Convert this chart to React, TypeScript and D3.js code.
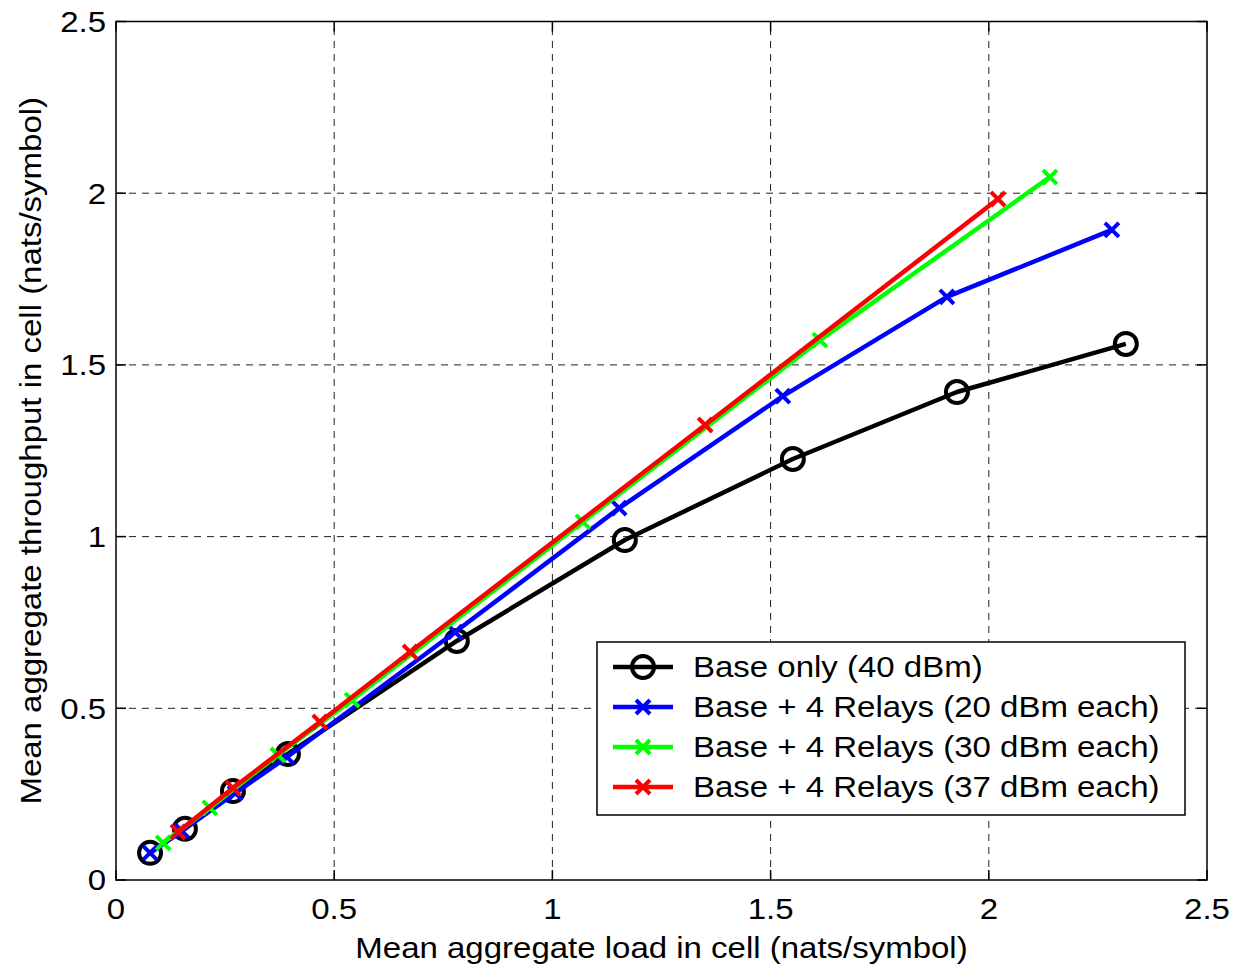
import React from 'react'
import * as d3 from 'd3'

const width = 1233
const height = 970
const margin = { left: 116, top: 21.5, right: 26, bottom: 90 }

const xTicks = [0, 0.5, 1, 1.5, 2, 2.5]
const yTicks = [0, 0.5, 1, 1.5, 2, 2.5]
const xTickLabels = ['0', '0.5', '1', '1.5', '2', '2.5']
const yTickLabels = ['0', '0.5', '1', '1.5', '2', '2.5']

const baseX = [0.078, 0.158, 0.268, 0.394, 0.781, 1.166, 1.551, 1.927, 2.314]
const baseY = [0.079, 0.149, 0.259, 0.367, 0.696, 0.99, 1.226, 1.421, 1.561]
const relay20X = [0.078, 0.151, 0.273, 0.392, 0.777, 1.153, 1.528, 1.904, 2.282]
const relay20Y = [0.079, 0.143, 0.253, 0.358, 0.722, 1.083, 1.409, 1.698, 1.893]
const relay30X = [0.108, 0.215, 0.371, 0.541, 1.07, 1.613, 2.14]
const relay30Y = [0.108, 0.21, 0.364, 0.524, 1.043, 1.572, 2.047]
const relay37X = [0.142, 0.268, 0.467, 0.674, 1.35, 2.021]
const relay37Y = [0.14, 0.268, 0.46, 0.664, 1.325, 1.983]

const seriesNames = [
  'Base only (40 dBm)',
  'Base + 4 Relays (20 dBm each)',
  'Base + 4 Relays (30 dBm each)',
  'Base + 4 Relays (37 dBm each)',
]
const seriesColors = ['#000000', '#0000ff', '#00ff00', '#ff0000']
const seriesMarkers = ['circle', 'x', 'x', 'x']

const font = '"Liberation Sans", Arial, sans-serif'
const fontSize = 30
const stretch = 1.1

function Label({ x, y, anchor, rotate = 0, children }) {
  return (
    <g transform={`translate(${x},${y}) rotate(${rotate}) scale(${stretch},1)`}>
      <text
        textAnchor={anchor}
        dominantBaseline="central"
        fontFamily={font}
        fontSize={fontSize}
        fill="#000"
      >
        {children}
      </text>
    </g>
  )
}

function Marker({ type, x, y, color }) {
  if (type === 'circle') {
    return <circle cx={x} cy={y} r={11} fill="none" stroke={color} strokeWidth={4} />
  }
  const s = 7
  return (
    <path
      d={`M${x - s},${y - s}L${x + s},${y + s}M${x - s},${y + s}L${x + s},${y - s}`}
      stroke={color}
      strokeWidth={4}
      fill="none"
    />
  )
}

export default function App() {
  const xScale = d3
    .scaleLinear()
    .domain([0, 2.5])
    .range([margin.left, width - margin.right])
  const yScale = d3
    .scaleLinear()
    .domain([0, 2.5])
    .range([height - margin.bottom, margin.top])

  const series = [
    baseX.map((x, i) => [x, baseY[i]]),
    relay20X.map((x, i) => [x, relay20Y[i]]),
    relay30X.map((x, i) => [x, relay30Y[i]]),
    relay37X.map((x, i) => [x, relay37Y[i]]),
  ]

  const line = d3
    .line()
    .x((d) => xScale(d[0]))
    .y((d) => yScale(d[1]))

  const x0 = xScale(0)
  const x1 = xScale(2.5)
  const y0 = yScale(0)
  const y1 = yScale(2.5)

  const legend = { x: 597, y: 642, w: 588, h: 173, row: 40 }

  return (
    <svg
      width={width}
      height={height}
      style={{ position: 'absolute', left: 0, top: 0, background: '#fff' }}
    >
      {/* grid */}
      {xTicks.slice(1, -1).map((t) => (
        <line
          key={'gx' + t}
          x1={xScale(t)}
          x2={xScale(t)}
          y1={y0}
          y2={y1}
          stroke="#222"
          strokeWidth={1}
          strokeDasharray="7,6"
        />
      ))}
      {yTicks.slice(1, -1).map((t) => (
        <line
          key={'gy' + t}
          x1={x0}
          x2={x1}
          y1={yScale(t)}
          y2={yScale(t)}
          stroke="#222"
          strokeWidth={1}
          strokeDasharray="7,6"
        />
      ))}

      {/* ticks */}
      {xTicks.map((t) => (
        <g key={'tx' + t}>
          <line x1={xScale(t)} x2={xScale(t)} y1={y0} y2={y0 - 10} stroke="#000" strokeWidth={1.5} />
          <line x1={xScale(t)} x2={xScale(t)} y1={y1} y2={y1 + 10} stroke="#000" strokeWidth={1.5} />
        </g>
      ))}
      {yTicks.map((t) => (
        <g key={'ty' + t}>
          <line x1={x0} x2={x0 + 10} y1={yScale(t)} y2={yScale(t)} stroke="#000" strokeWidth={1.5} />
          <line x1={x1} x2={x1 - 10} y1={yScale(t)} y2={yScale(t)} stroke="#000" strokeWidth={1.5} />
        </g>
      ))}

      {/* series */}
      {series.map((pts, si) => (
        <g key={'s' + si}>
          <path d={line(pts)} fill="none" stroke={seriesColors[si]} strokeWidth={4.5} strokeLinejoin="round" />
          {pts.map((p, i) => (
            <Marker
              key={i}
              type={seriesMarkers[si]}
              x={xScale(p[0])}
              y={yScale(p[1])}
              color={seriesColors[si]}
            />
          ))}
        </g>
      ))}

      {/* axes box */}
      <rect x={x0} y={y1} width={x1 - x0} height={y0 - y1} fill="none" stroke="#000" strokeWidth={1.5} />

      {/* tick labels */}
      {xTicks.map((t, i) => (
        <Label key={'lx' + t} x={xScale(t)} y={y0 + 29} anchor="middle">
          {xTickLabels[i]}
        </Label>
      ))}
      {yTicks.map((t, i) => (
        <Label key={'ly' + t} x={x0 - 10} y={yScale(t)} anchor="end">
          {yTickLabels[i]}
        </Label>
      ))}

      {/* axis labels */}
      <Label x={(x0 + x1) / 2} y={948} anchor="middle">
        Mean aggregate load in cell (nats/symbol)
      </Label>
      <Label x={31} y={(y0 + y1) / 2} anchor="middle" rotate={-90}>
        Mean aggregate throughput in cell (nats/symbol)
      </Label>

      {/* legend */}
      <rect x={legend.x} y={legend.y} width={legend.w} height={legend.h} fill="#fff" stroke="#000" strokeWidth={1.5} />
      {seriesNames.map((name, i) => {
        const cy = legend.y + 25 + i * legend.row
        return (
          <g key={name}>
            <line x1={legend.x + 16} x2={legend.x + 76} y1={cy} y2={cy} stroke={seriesColors[i]} strokeWidth={4.5} />
            <Marker type={seriesMarkers[i]} x={legend.x + 46} y={cy} color={seriesColors[i]} />
            <Label x={legend.x + 96} y={cy} anchor="start">
              {name}
            </Label>
          </g>
        )
      })}
    </svg>
  )
}
